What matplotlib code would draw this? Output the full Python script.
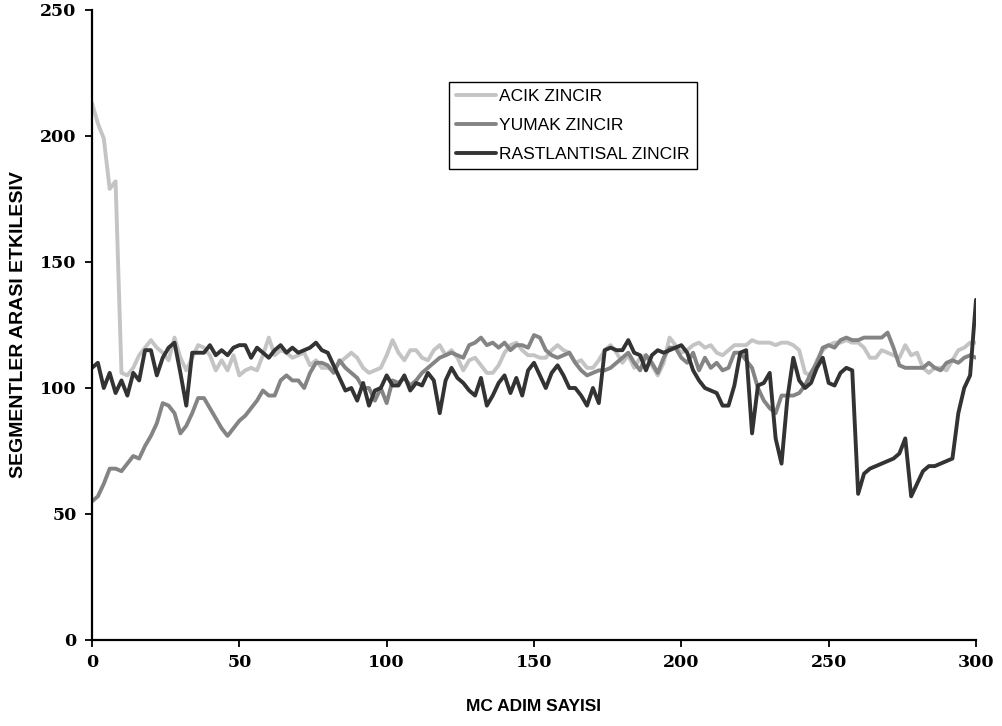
import numpy as np
import matplotlib
matplotlib.use("Agg")
import matplotlib.pyplot as plt

# MC step (every 2nd step)
mc_steps = np.arange(0, 301, 2)

acik_zincir = [
    213, 205, 199, 179, 182, 106, 105, 108, 113, 116,
    119, 116, 114, 111, 120, 112, 107, 112, 117, 116,
    113, 107, 111, 107, 113, 105, 107, 108, 107, 113,
    120, 113, 115, 114, 112, 113, 114, 109, 111, 108,
    108, 107, 110, 112, 114, 112, 108, 106, 107, 108,
    113, 119, 114, 111, 115, 115, 112, 111, 115, 117,
    113, 115, 112, 107, 111, 112, 109, 106, 106, 109,
    114, 117, 118, 115, 113, 113, 112, 112, 115, 117,
    115, 114, 110, 111, 108, 108, 111, 115, 117, 114,
    110, 113, 108, 112, 113, 109, 105, 110, 120, 117,
    114, 115, 117, 118, 116, 117, 114, 113, 115, 117,
    117, 117, 119, 118, 118, 118, 117, 118, 118, 117,
    115, 106, 105, 111, 115, 117, 118, 118, 119, 118,
    118, 116, 112, 112, 115, 114, 113, 112, 117, 113,
    114, 108, 106, 108, 108, 107, 111, 115, 116, 118,
    118,
]

yumak_zincir = [
    55, 57, 62, 68, 68, 67, 70, 73, 72, 77,
    81, 86, 94, 93, 90, 82, 85, 90, 96, 96,
    92, 88, 84, 81, 84, 87, 89, 92, 95, 99,
    97, 97, 103, 105, 103, 103, 100, 106, 110, 110,
    109, 106, 111, 108, 106, 104, 100, 100, 95, 100,
    94, 103, 102, 104, 101, 103, 106, 108, 110, 112,
    113, 114, 113, 112, 117, 118, 120, 117, 118, 116,
    118, 115, 117, 117, 116, 121, 120, 115, 113, 112,
    113, 114, 110, 107, 105, 106, 107, 107, 108, 110,
    112, 114, 110, 107, 113, 110, 106, 112, 116, 116,
    112, 110, 114, 107, 112, 108, 110, 107, 108, 114,
    114, 111, 108, 100, 95, 92, 90, 97, 97, 97,
    98, 101, 106, 110, 116, 117, 116, 119, 120, 119,
    119, 120, 120, 120, 120, 122, 116, 109, 108, 108,
    108, 108, 110, 108, 107, 110, 111, 110, 112, 113,
    112,
]

rastlantisal_zincir = [
    108, 110, 100, 106, 98, 103, 97, 106, 103, 115,
    115, 105, 112, 116, 118, 106, 93, 114, 114, 114,
    117, 113, 115, 113, 116, 117, 117, 112, 116, 114,
    112, 115, 117, 114, 116, 114, 115, 116, 118, 115,
    114, 109, 104, 99, 100, 95, 102, 93, 99, 100,
    105, 101, 101, 105, 99, 102, 101, 106, 103, 90,
    103, 108, 104, 102, 99, 97, 104, 93, 97, 102,
    105, 98, 104, 97, 107, 110, 105, 100, 106, 109,
    105, 100, 100, 97, 93, 100, 94, 115, 116, 115,
    115, 119, 114, 113, 107, 113, 115, 114, 115, 116,
    117, 114, 107, 103, 100, 99, 98, 93, 93, 101,
    114, 115, 82, 101, 102, 106, 80, 70, 96, 112,
    103, 100, 102, 108, 112, 102, 101, 106, 108, 107,
    58, 66, 68, 69, 70, 71, 72, 74, 80, 57,
    62, 67, 69, 69, 70, 71, 72, 90, 100, 105,
    135,
]

series_labels = ["ACIK ZINCIR", "YUMAK ZINCIR", "RASTLANTISAL ZINCIR"]
series_colors = ["#c4c4c4", "#848484", "#333333"]
x_ticks = [0, 50, 100, 150, 200, 250, 300]
y_ticks = [0, 50, 100, 150, 200, 250]

fig = plt.figure(figsize=(10.02, 7.26), dpi=100)
ax = fig.add_axes([92/1002, 1-640/726, (976-92)/1002, (640-10)/726])

for vals, lab, col in zip([acik_zincir, yumak_zincir, rastlantisal_zincir],
                          series_labels, series_colors):
    ax.plot(mc_steps, vals, color=col, lw=2.8, label=lab,
            solid_joinstyle="round", solid_capstyle="round")

ax.set_xlim(0, 300)
ax.set_ylim(0, 250)
ax.set_xticks(x_ticks)
ax.set_yticks(y_ticks)
for s in ["top", "right"]:
    ax.spines[s].set_visible(False)
for s in ["left", "bottom"]:
    ax.spines[s].set_linewidth(1.6)
    ax.spines[s].set_color("black")
ax.tick_params(direction="out", length=5, width=1.3, colors="black")
ax.tick_params(axis="x", pad=5)
ax.tick_params(axis="y", pad=6)
for lbl in ax.get_xticklabels() + ax.get_yticklabels():
    lbl.set_fontfamily("DejaVu Serif")
    lbl.set_fontweight("bold")
    lbl.set_fontsize(12.5)

ax.set_xlabel("MC ADIM SAYISI", fontfamily="Liberation Sans", fontweight="bold", fontsize=12.5)
ax.set_ylabel("SEGMENTLER ARASI ETKILESIV", fontfamily="Liberation Sans", fontweight="bold", fontsize=14)
ax.xaxis.set_label_coords(0.5, -0.094)
ax.yaxis.set_label_coords(-0.074, 0.5)

leg = ax.legend(loc="upper left", bbox_to_anchor=((449-92)/884, (640-82)/630),
                frameon=True, fancybox=False, shadow=False, framealpha=1,
                prop={"family": "Liberation Sans", "size": 12.5},
                handlelength=2.3, handletextpad=0.2, borderpad=0.4, labelspacing=0.8,
                borderaxespad=0)
leg.get_frame().set_edgecolor("black")
leg.get_frame().set_linewidth(1.0)

fig.savefig("out.png", dpi=100)
